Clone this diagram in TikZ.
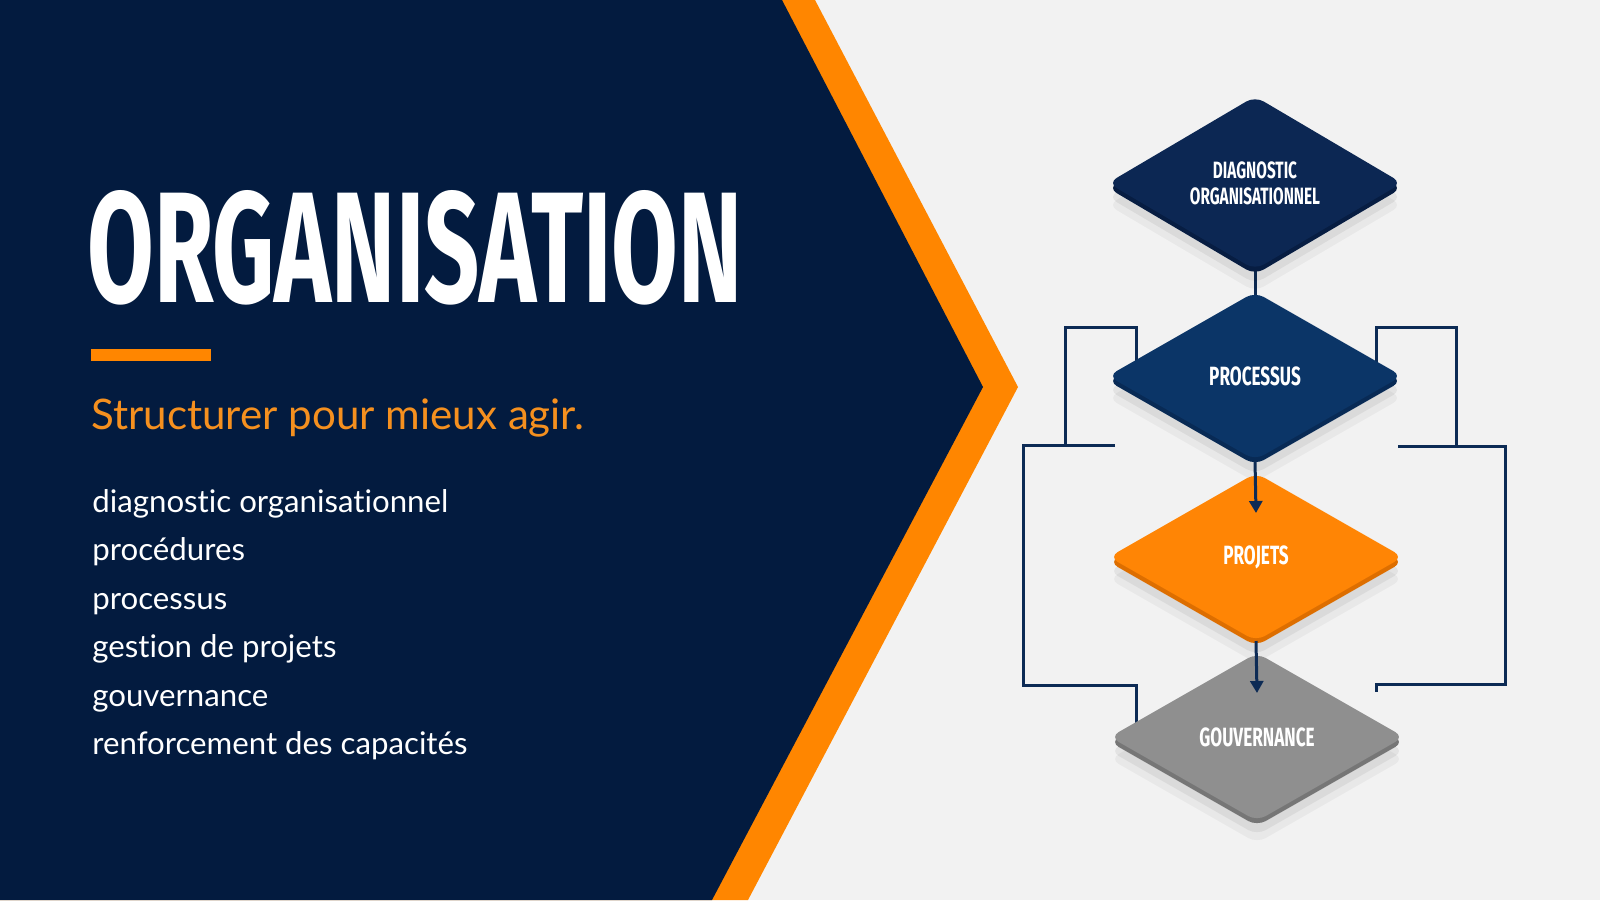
\documentclass[tikz,border=0pt]{standalone}
\usepackage{fontspec}
\usepackage{graphicx}
\setmainfont{Lato}[Ligatures=NoCommon]
\newfontfamily\headfont{Fira Sans}
\usetikzlibrary{shapes.geometric,arrows.meta}

\definecolor{lightbg}{HTML}{F2F2F2}
\definecolor{navybg}{HTML}{031B3F}
\definecolor{chevron}{HTML}{FF8600}
\definecolor{accent}{HTML}{F5901F}
\definecolor{linkblue}{HTML}{0D2B55}
\definecolor{diagfill}{HTML}{0C2753}
\definecolor{diagedge}{HTML}{071D42}
\definecolor{procfill}{HTML}{0B3567}
\definecolor{procedge}{HTML}{082A55}
\definecolor{projfill}{HTML}{FF8505}
\definecolor{projedge}{HTML}{DD6E00}
\definecolor{gouvfill}{HTML}{8F8F8F}
\definecolor{gouvedge}{HTML}{767676}

\newcommand{\cond}[1]{\scalebox{0.65}[1]{#1}}

\pgfdeclarelayer{bg}
\pgfdeclarelayer{back}
\pgfsetlayers{bg,back,main}

\tikzset{
  flowbox/.style 2 args={diamond, minimum width=147pt, minimum height=84pt,
    inner sep=0pt, outer sep=0pt, rounded corners=5pt, fill=#1, text=white,
    align=center, font=\headfont\bfseries\fontsize{13.2}{13}\selectfont,
    preaction={fill=black, fill opacity=.04, transform canvas={yshift=-11pt}},
    preaction={fill=black, fill opacity=.06, transform canvas={yshift=-7pt}},
    preaction={fill=#2, transform canvas={yshift=-2.5pt}}},
  link/.style={draw=linkblue, line width=1.5pt},
  arrowlink/.style={link, -{Triangle[length=6pt,width=6.5pt]}},
  listitem/.style={anchor=base west, inner sep=0pt, text=white,
    font=\fontsize{15.6}{19}\selectfont}
}

\begin{document}
\begin{tikzpicture}[x=0.5pt, y=-0.5pt]
  \useasboundingbox (0,0) rectangle (1600,900);
  \begin{pgfonlayer}{bg}
    % page and chevron panel
    \fill[lightbg] (0,0) rectangle (1600,900);
    \fill[chevron] (0,0) -- (815,0) -- (1018,387) -- (748,900) -- (0,900) -- cycle;
    \fill[navybg] (0,0) -- (782,0) -- (983,387) -- (712,900) -- (0,900) -- cycle;
  \end{pgfonlayer}

  % title block
  \node[anchor=base west, inner sep=0pt, text=white] (title) at (87,302)
    {\resizebox{327.5pt}{56pt}{\headfont\bfseries ORGANISATION}};
  \fill[chevron] (91,349) rectangle (211,361);
  \node[anchor=base west, inner sep=0pt, text=accent,
    font=\fontsize{21.05}{25}\selectfont] (tagline) at (91,429)
    {Structurer pour mieux agir.};

  % list
  \foreach \entry [count=\i from 0] in {diagnostic organisationnel, procédures,
    processus, gestion de projets, gouvernance, renforcement des capacités}{
    \node[listitem] (entry\i) at (92, 512+48.5*\i) {\entry};
  }

  % flow chart
  \node[flowbox={diagfill}{diagedge}, font=\headfont\bfseries\fontsize{11.8}{13}\selectfont]
    (diag) at (1255,183) {\cond{DIAGNOSTIC}\\\cond{ORGANISATIONNEL}};
  \node[flowbox={procfill}{procedge}] (proc) at (1255,376) {\cond{PROCESSUS}};
  \node[flowbox={projfill}{projedge}] (proj) at (1256,557) {\cond{PROJETS}};
  \node[flowbox={gouvfill}{gouvedge}] (gouv) at (1257,737) {\cond{GOUVERNANCE}};

  \draw[arrowlink] (proc.south) -- ([yshift=-20pt]proj.north);
  \draw[arrowlink] (proj.south) -- ([yshift=-20pt]gouv.north);

  % loops behind the boxes
  \coordinate (lfree) at (1065,445);
  \coordinate (lgap) at (1115,445);
  \coordinate (rfree) at (1456,446);
  \coordinate (rgap) at (1398,446);
  \coordinate (rend) at (1376,692);
  \begin{pgfonlayer}{back}
    \draw[arrowlink] (diag.south) -- ([yshift=-19pt]proc.north);
    \draw[link] ([xshift=14pt]proc.west) |- (1065,327) -- (lfree);
    \draw[link] (lgap) -| (1023,685) -| ([xshift=13pt]gouv.west);
    \draw[link] ([xshift=-13pt]proc.east) |- (1456,327) -- (rfree);
    \draw[link] (rgap) -| (1505,684) -| (rend);
  \end{pgfonlayer}
\end{tikzpicture}
\end{document}
